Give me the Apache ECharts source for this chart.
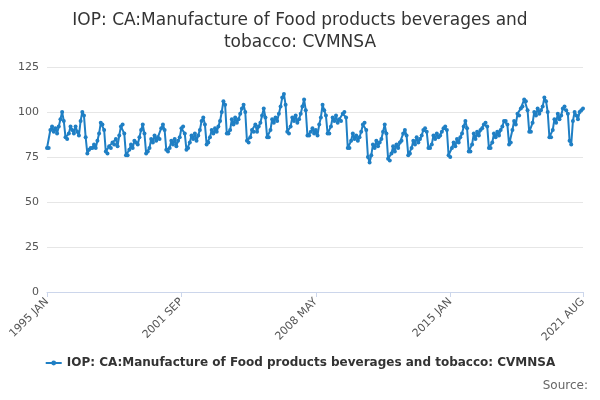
<!DOCTYPE html><html><head><meta charset="utf-8"><script src="https://cdn.jsdelivr.net/npm/echarts@6/dist/echarts.min.js"></script></head><body style="margin:0"><div id="c" style="width:600px;height:400px"></div><script>
const title = "IOP: CA:Manufacture of Food products beverages and tobacco: CVMNSA";
const y1995=[80,80,90,92,89,91,88,92,96,100,95,86];
const y1996=[85,88,92,90,88,92,89,87,95,100,98,86];
const y1997=[77,79,80,80,82,80,84,88,94,93,90,78];
const y1998=[77,81,80,83,82,85,81,87,92,93,88,76];
const y1999=[76,79,82,80,84,83,82,86,90,93,88,77];
const y2000=[78,80,85,83,87,84,86,85,91,93,90,79];
const y2001=[78,80,84,82,85,81,84,86,91,92,88,79];
const y2002=[80,83,87,85,88,84,87,90,95,97,93,82];
const y2003=[83,86,90,88,91,89,92,95,100,106,104,88];
const y2004=[88,90,96,93,97,94,96,99,102,104,100,84];
const y2005=[83,86,90,89,93,89,92,94,98,102,97,86];
const y2006=[86,90,96,94,97,95,99,103,108,110,104,89];
const y2007=[88,92,97,95,98,94,96,99,103,107,101,87];
const y2008=[87,89,91,88,90,87,93,97,104,101,98,88];
const y2009=[88,92,97,95,98,94,96,95,99,100,97,80];
const y2010=[80,84,88,85,87,84,86,89,93,94,90,75];
const y2011=[72,76,82,80,84,81,83,85,89,93,88,74];
const y2012=[73,77,81,78,82,80,83,84,88,90,87,76];
const y2013=[77,80,84,82,86,83,85,87,90,91,89,80];
const y2014=[80,82,87,85,88,86,87,89,91,92,90,76];
const y2015=[75,80,83,81,85,83,86,88,92,95,91,78];
const y2016=[78,82,88,85,89,87,90,91,93,94,92,80];
const y2017=[80,83,88,86,89,87,90,92,95,95,93,82];
const y2018=[83,90,95,93,99,98,102,103,107,106,101,89];
const y2019=[89,94,100,98,102,99,101,103,108,106,100,86];
const y2020=[86,90,96,94,99,96,98,102,103,101,99,84];
const y2021=[82,95,100,98,96,100,101,102];
const values=[].concat(y1995,y1996,y1997,y1998,y1999,y2000,y2001,y2002,y2003,y2004,y2005,y2006,y2007,y2008,y2009,y2010,y2011,y2012,y2013,y2014,y2015,y2016,y2017,y2018,y2019,y2020,y2021);
const months=["JAN","FEB","MAR","APR","MAY","JUN","JUL","AUG","SEP","OCT","NOV","DEC"];
const cats=values.map((v,i)=>(1995+Math.floor(i/12))+" "+months[i%12]);
const tickLabels=["1995 JAN","2001 SEP","2008 MAY","2015 JAN","2021 AUG"];
const yTicks=[0,25,50,75,100,125];
const ch=echarts.init(document.getElementById('c'));
ch.setOption({
 title:{text:title.replace("beverages and ","beverages and\n"),left:'center',top:5,textStyle:{fontFamily:'DejaVu Sans',fontSize:17,fontWeight:'normal',color:'#333',lineHeight:22}},
 grid:{left:47,right:17,top:67,bottom:108},
 xAxis:{type:'category',data:cats,boundaryGap:false,axisLine:{lineStyle:{color:'#ccd6eb'}},
  axisTick:{show:true,lineStyle:{color:'#ccd6eb'},interval:(i,v)=>tickLabels.includes(v)},
  axisLabel:{interval:(i,v)=>tickLabels.includes(v),rotate:45,color:'#555',fontSize:11,fontFamily:'DejaVu Sans',showMaxLabel:true}},
 yAxis:{type:'value',min:yTicks[0],max:yTicks[5],interval:25,axisLabel:{color:'#555',fontSize:11,fontFamily:'DejaVu Sans'},splitLine:{lineStyle:{color:'#e6e6e6'}}},
 legend:{bottom:26,left:'center',itemWidth:16,itemHeight:6,textStyle:{fontFamily:'DejaVu Sans',fontSize:12,fontWeight:'bold',color:'#333'}},
 graphic:[{type:'text',right:12,bottom:8,style:{text:'Source:',fontFamily:'DejaVu Sans',fontSize:12,fill:'#666'}}],
 series:[{name:title,type:'line',data:values,symbol:'circle',symbolSize:4,showAllSymbol:true,itemStyle:{color:'#1f7fc4'},lineStyle:{width:2,color:'#1f7fc4'}}]
});
</script></body></html>
